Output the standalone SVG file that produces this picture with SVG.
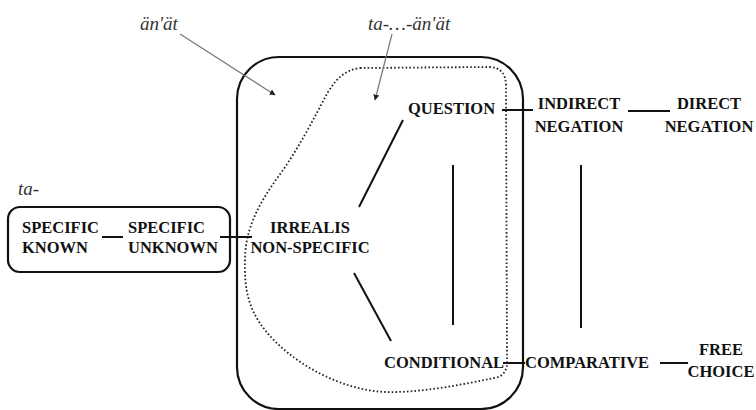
<svg xmlns="http://www.w3.org/2000/svg" width="756" height="410" viewBox="0 0 756 410">
<style>
.lbl{font-family:"Liberation Serif","Times New Roman",serif;font-weight:bold;font-size:16.5px;fill:#111}
.it{font-family:"Liberation Serif","Times New Roman",serif;font-style:italic;font-size:19px;fill:#333}
.ln{stroke:#111;stroke-width:2;fill:none}
.arr{stroke:#777;stroke-width:1.2;fill:none}
</style>
<defs>
<marker id="ah" viewBox="0 0 10 10" refX="9" refY="5" markerWidth="6" markerHeight="6" orient="auto" markerUnits="userSpaceOnUse">
<path d="M0,0 L10,5 L0,10 Z" fill="#222"/>
</marker>
</defs>
<rect width="756" height="410" fill="#fff"/>
<g id="regions">
<rect id="box-anat" x="237" y="57" width="286" height="352" rx="42" fill="none" stroke="#111" stroke-width="2.2"/>
<rect id="box-ta" x="8" y="207" width="222" height="65" rx="12" fill="none" stroke="#111" stroke-width="2.2"/>
<path id="blob" d="M360 68 L490 67 Q506 68 506 86 L507 360 Q508 376 494 378 C460 385 420 393 385 392 C340 390 290 362 265 330 C249 310 244 290 245 260 C245 228 260 202 278 177 C298 150 314 118 328 92 C337 78 345 70 360 68 Z" fill="none" stroke="#222" stroke-width="1.8" stroke-dasharray="1.6 2.2"/>
</g>
<g id="labels-italic">
<text class="it" x="140" y="30">än'ät</text>
<text class="it" x="368" y="30">ta-…-än'ät</text>
<text class="it" x="18" y="195">ta-</text>
</g>
<g id="connectors">
<line class="arr" x1="180" y1="34" x2="275" y2="95" marker-end="url(#ah)"/>
<line class="arr" x1="392" y1="34" x2="375" y2="100" marker-end="url(#ah)"/>
<line class="ln" x1="102" y1="237" x2="123" y2="237"/>
<line class="ln" x1="220" y1="237" x2="252" y2="237"/>
<line class="ln" x1="502" y1="110" x2="533" y2="110"/>
<line class="ln" x1="628" y1="111" x2="670" y2="111"/>
<line class="ln" x1="403" y1="120" x2="359" y2="207"/>
<line class="ln" x1="354" y1="273" x2="391" y2="341"/>
<line class="ln" x1="453" y1="165" x2="453" y2="325"/>
<line class="ln" x1="581" y1="165" x2="581" y2="328"/>
<line class="ln" x1="503" y1="363" x2="525" y2="363"/>
<line class="ln" x1="660" y1="363" x2="688" y2="363"/>
</g>
<g id="n-specific-known"><text class="lbl" x="22" y="233">SPECIFIC</text><text class="lbl" x="22" y="253">KNOWN</text></g>
<g id="n-specific-unknown"><text class="lbl" x="128" y="233">SPECIFIC</text><text class="lbl" x="128" y="253">UNKNOWN</text></g>
<g id="n-irrealis"><text class="lbl" x="310" y="233" text-anchor="middle">IRREALIS</text><text class="lbl" x="310" y="253" text-anchor="middle">NON-SPECIFIC</text></g>
<g id="n-question"><text class="lbl" x="408" y="114">QUESTION</text></g>
<g id="n-indirect"><text class="lbl" x="579" y="109" text-anchor="middle">INDIRECT</text><text class="lbl" x="579" y="132" text-anchor="middle">NEGATION</text></g>
<g id="n-direct"><text class="lbl" x="709" y="109" text-anchor="middle">DIRECT</text><text class="lbl" x="709" y="132" text-anchor="middle">NEGATION</text></g>
<g id="n-conditional"><text class="lbl" x="384" y="368">CONDITIONAL</text></g>
<g id="n-comparative"><text class="lbl" x="525" y="368">COMPARATIVE</text></g>
<g id="n-free"><text class="lbl" x="721" y="355" text-anchor="middle">FREE</text><text class="lbl" x="721" y="377" text-anchor="middle">CHOICE</text></g>
</svg>
